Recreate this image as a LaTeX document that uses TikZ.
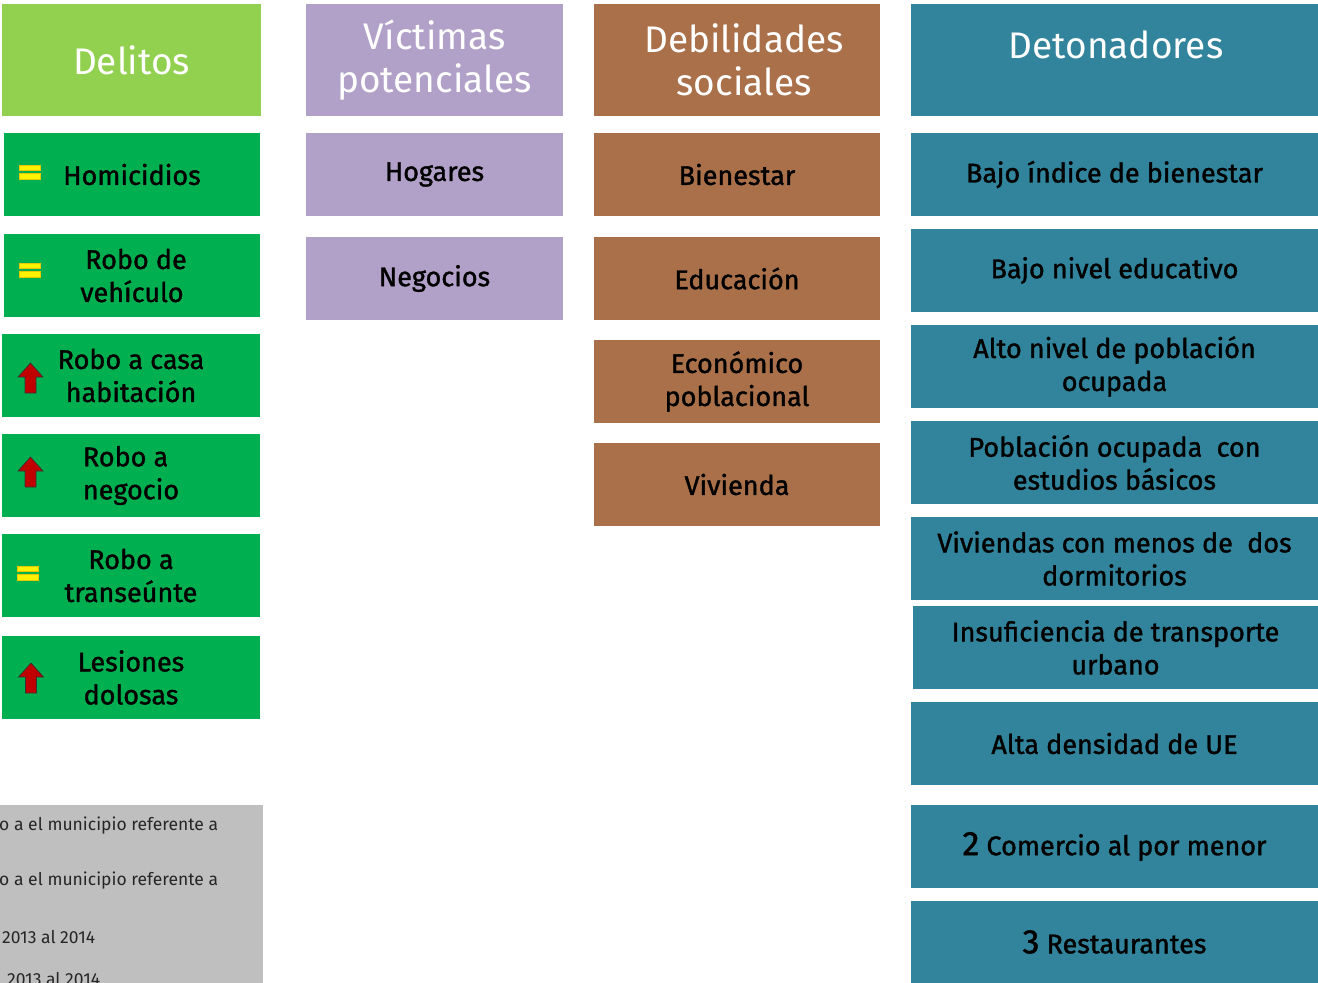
\documentclass[tikz,border=0pt]{standalone}
\usepackage{fontspec}
\setmainfont{Fira Sans}
\newfontfamily\itemfont{Fira Sans}[FakeBold=1.3]
\definecolor{delhead}{HTML}{92D050}
\definecolor{delitem}{HTML}{00B050}
\definecolor{vic}{HTML}{B1A0C7}
\definecolor{deb}{HTML}{A9704A}
\definecolor{det}{HTML}{31849B}
\definecolor{graybg}{HTML}{BFBFBF}
\definecolor{arrred}{HTML}{C00000}
\tikzset{
  cell/.style={inner sep=0pt, align=center, minimum height=83pt},
  headcell/.style={cell, minimum height=112pt, text=white, font=\fontsize{37}{43}\selectfont},
  itemtxt/.style={font=\itemfont\fontsize{27}{33}\selectfont, text=black},
  grtxt/.style={font=\fontsize{17.5}{21}\selectfont, text=black!85, anchor=west, inner sep=0pt},
  eqbar/.style={fill=yellow, draw={rgb,255:red,230;green,200;blue,0}, line width=0.6pt},
  uparr/.pic={\draw[fill=arrred, draw=black!80, line width=0.7pt]
     (0,-15) -- (12.5,-1) -- (5.5,-1) -- (5.5,15) -- (-5.5,15) -- (-5.5,-1) -- (-12.5,-1) -- cycle;},
  eqsign/.pic={\draw[eqbar] (-10.5,-7) rectangle (10.5,-1.5); \draw[eqbar] (-10.5,1.5) rectangle (10.5,7);}
}
\begin{document}
\begin{tikzpicture}[x=1pt,y=-1pt]
\useasboundingbox[fill=white] (0,0) rectangle (1318,983);
% Column 1
\node[headcell, fill=delhead, minimum width=259pt] (h1) at (131.5,60) {Delitos};
\node[cell, itemtxt, fill=delitem, minimum width=256pt] (d1) at (132,174.5) {Homicidios};
\node[cell, itemtxt, fill=delitem, minimum width=256pt] (d2) at (132,275.5) {\hspace*{8pt}Robo de\\vehículo};
\node[cell, itemtxt, fill=delitem, minimum width=258pt] (d3) at (131,375.5) {Robo a casa\\habitación};
\node[cell, itemtxt, fill=delitem, minimum width=258pt, align=left] (d4) at (131,475.5) {Robo a\\negocio};
\node[cell, itemtxt, fill=delitem, minimum width=258pt] (d5) at (131,575.5) {Robo a\\transeúnte};
\node[cell, itemtxt, fill=delitem, minimum width=258pt] (d6) at (131,677.5) {Lesiones\\dolosas};
\pic at (30,172) {eqsign};
\pic at (30,270) {eqsign};
\pic at (28,573) {eqsign};
\pic at (30.5,378) {uparr};
\pic at (30.5,472) {uparr};
\pic at (31,678) {uparr};
% Gray legend box
\node[fill=graybg, inner sep=0pt, minimum width=263pt, minimum height=178pt] (g) at (131.5,894) {};
\begin{scope}
\clip (0,805) rectangle (263,983);
\node[grtxt] (g1) at (-1,826) {o a el municipio referente a};
\node[grtxt] (g2) at (-1,881) {o a el municipio referente a};
\node[grtxt] (g3) at (2,937) {2013 al 2014};
\node[grtxt] (g4) at (7,979) {2013 al 2014};
\end{scope}
% Column 2
\node[headcell, fill=vic, minimum width=257pt] (h2) at (434.5,60) {Víctimas\\potenciales};
\node[cell, itemtxt, fill=vic, minimum width=257pt] (v1) at (434.5,174.5) {Hogares};
\node[cell, itemtxt, fill=vic, minimum width=257pt] (v2) at (434.5,278.5) {Negocios};
% Column 3
\node[headcell, fill=deb, minimum width=286pt] (h3) at (737,60) {\hspace*{14pt}Debilidades\\\hspace*{14pt}sociales};
\node[cell, itemtxt, fill=deb, minimum width=286pt] (b1) at (737,174.5) {Bienestar};
\node[cell, itemtxt, fill=deb, minimum width=286pt] (b2) at (737,278.5) {Educación};
\node[cell, itemtxt, fill=deb, minimum width=286pt] (b3) at (737,381.5) {Económico\\poblacional};
\node[cell, itemtxt, fill=deb, minimum width=286pt] (b4) at (737,484.5) {Vivienda};
% Column 4
\node[cell, fill=det, minimum width=407pt, minimum height=112pt] (h4) at (1114.5,60) {};
\node[text=white, font=\fontsize{37}{43}\selectfont, inner sep=0pt] (h4t) at (1116,45) {Detonadores};
\node[cell, itemtxt, fill=det, minimum width=407pt] (t1) at (1114.5,174.5) {Bajo índice de bienestar};
\node[cell, itemtxt, fill=det, minimum width=407pt] (t2) at (1114.5,270.5) {Bajo nivel educativo};
\node[cell, itemtxt, fill=det, minimum width=407pt] (t3) at (1114.5,366.5) {Alto nivel de población\\ocupada};
\node[cell, itemtxt, fill=det, minimum width=407pt] (t4) at (1114.5,462.5) {Población ocupada\ \ con\\estudios básicos};
\node[cell, itemtxt, fill=det, minimum width=407pt] (t5) at (1114.5,558.5) {Viviendas con menos de\ \ dos\\dormitorios};
\node[cell, itemtxt, fill=det, minimum width=405pt] (t6) at (1115.5,647.5) {Insuficiencia de transporte\\urbano};
\node[cell, itemtxt, fill=det, minimum width=407pt] (t7) at (1114.5,743.5) {Alta densidad de UE};
\node[cell, itemtxt, fill=det, minimum width=407pt] (t8) at (1114.5,846.5) {{\fontsize{34}{34}\selectfont 2} Comercio al por menor};
\node[cell, itemtxt, fill=det, minimum width=407pt, minimum height=82pt] (t9) at (1114.5,942) {{\fontsize{34}{34}\selectfont 3} Restaurantes};
\end{tikzpicture}
\end{document}
